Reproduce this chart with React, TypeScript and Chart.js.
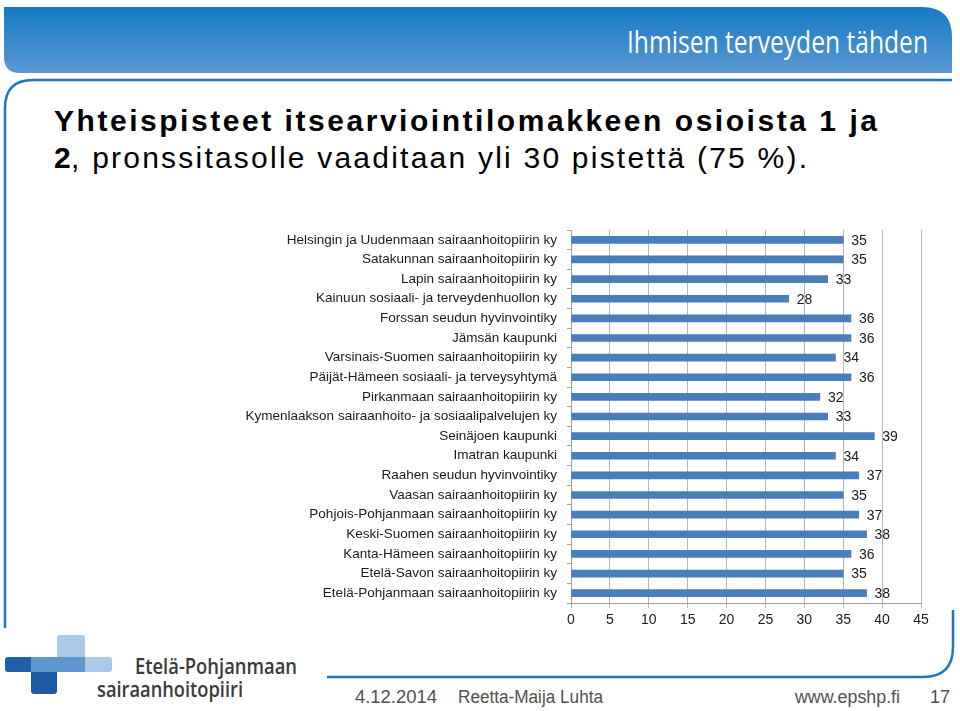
import React, { useEffect, useRef } from "react";
import { Chart, registerables } from "chart.js";

Chart.register(...registerables);

const categories = [
  "Helsingin ja Uudenmaan sairaanhoitopiirin ky",
  "Satakunnan sairaanhoitopiirin ky",
  "Lapin sairaanhoitopiirin ky",
  "Kainuun sosiaali- ja terveydenhuollon ky",
  "Forssan seudun hyvinvointiky",
  "Jämsän kaupunki",
  "Varsinais-Suomen sairaanhoitopiirin ky",
  "Päijät-Hämeen sosiaali- ja terveysyhtymä",
  "Pirkanmaan sairaanhoitopiirin ky",
  "Kymenlaakson sairaanhoito- ja sosiaalipalvelujen ky",
  "Seinäjoen kaupunki",
  "Imatran kaupunki",
  "Raahen seudun hyvinvointiky",
  "Vaasan sairaanhoitopiirin ky",
  "Pohjois-Pohjanmaan sairaanhoitopiirin ky",
  "Keski-Suomen sairaanhoitopiirin ky",
  "Kanta-Hämeen sairaanhoitopiirin ky",
  "Etelä-Savon sairaanhoitopiirin ky",
  "Etelä-Pohjanmaan sairaanhoitopiirin ky",
];

const scores = [35, 35, 33, 28, 36, 36, 34, 36, 32, 33, 39, 34, 37, 35, 37, 38, 36, 35, 38];

const xMin = 0;
const xMax = 45;
const xStep = 5;

const titleLine1 = "Yhteispisteet itsearviointilomakkeen osioista 1 ja";
const titleLine2Bold = "2";
const titleLine2Rest = ", pronssitasolle vaaditaan yli 30 pistettä (75 %).";
const bannerText = "Ihmisen terveyden tähden";
const logoLine1 = "Etelä-Pohjanmaan";
const logoLine2 = "sairaanhoitopiiri";
const footerDate = "4.12.2014";
const footerAuthor = "Reetta-Maija Luhta";
const footerSite = "www.epshp.fi";
const footerPage = "17";

const FONT = "'Liberation Sans', Arial, Helvetica, sans-serif";

const valueLabels = {
  id: "valueLabels",
  afterDatasetsDraw(chart: any) {
    const ctx = chart.ctx;
    const meta = chart.getDatasetMeta(0);
    ctx.save();
    ctx.font = `14px ${FONT}`;
    ctx.fillStyle = "#1a1a1a";
    ctx.textAlign = "left";
    ctx.textBaseline = "middle";
    meta.data.forEach((bar: any, i: number) => {
      ctx.fillText(String(scores[i]), bar.x + 8, bar.y + 1);
    });
    ctx.restore();
  },
};

function Background() {
  return (
    <svg
      width={960}
      height={711}
      style={{ position: "absolute", left: 0, top: 0 }}
      xmlns="http://www.w3.org/2000/svg"
    >
      <defs>
        <linearGradient id="bannerGrad" x1="0" y1="0" x2="0" y2="1">
          <stop offset="0" stopColor="#1479c3" />
          <stop offset="1" stopColor="#5c98d4" />
        </linearGradient>
      </defs>
      <path
        d="M4,7 L922,7 Q952,7 952,37 L952,73 L20,73 Q4,73 4,57 Z"
        fill="url(#bannerGrad)"
      />
      <text
        x={627}
        y={53}
        fill="#ffffff"
        fontFamily="'Open Sans', 'Noto Sans', sans-serif"
        fontSize={31}
        textLength={301}
        lengthAdjust="spacingAndGlyphs"
      >
        {bannerText}
      </text>
      <path
        d="M5,628 L5,108 Q5,80 33,80 L952,80"
        fill="none"
        stroke="#1b78bd"
        strokeWidth={2.5}
      />
      <path
        d="M953,610 L953,647 Q953,677 923,677 L327,677"
        fill="none"
        stroke="#1b78bd"
        strokeWidth={2.5}
      />
      <text
        x={54}
        y={131}
        fill="#000"
        fontFamily={FONT}
        fontWeight="bold"
        fontSize={30}
        textLength={823}
        lengthAdjust="spacing"
      >
        {titleLine1}
      </text>
      <text x={54} y={168} fill="#000" fontFamily={FONT} fontWeight="bold" fontSize={30}>
        {titleLine2Bold}
      </text>
      <text
        x={71}
        y={168}
        fill="#000"
        fontFamily={FONT}
        fontSize={30}
        textLength={736}
        lengthAdjust="spacing"
      >
        {titleLine2Rest}
      </text>
      <rect x={57} y={635} width={28} height={26} rx={3} fill="#a9c9e9" />
      <rect x={80} y={657} width={32} height={15} rx={3} fill="#a9c9e9" />
      <rect x={5} y={657} width={30} height={15} rx={3} fill="#1f60a8" />
      <rect x={31} y={668} width={26} height={26} rx={3} fill="#1b5aa4" />
      <rect x={31} y={657} width={54} height={15} fill="#6097cf" />
      <text
        x={135}
        y={674}
        fill="#3a3a3a"
        fontFamily="'Open Sans', 'Noto Sans', sans-serif"
        fontWeight={600}
        fontSize={22}
        textLength={162}
        lengthAdjust="spacingAndGlyphs"
      >
        {logoLine1}
      </text>
      <text
        x={97}
        y={697}
        fill="#3a3a3a"
        fontFamily="'Open Sans', 'Noto Sans', sans-serif"
        fontWeight={600}
        fontSize={22}
        textLength={146}
        lengthAdjust="spacingAndGlyphs"
      >
        {logoLine2}
      </text>
      <text x={355} y={703} fill="#505050" fontFamily={FONT} fontSize={18} textLength={82} lengthAdjust="spacingAndGlyphs">
        {footerDate}
      </text>
      <text x={458} y={703} fill="#505050" fontFamily={FONT} fontSize={18} textLength={145} lengthAdjust="spacingAndGlyphs">
        {footerAuthor}
      </text>
      <text x={795} y={703} fill="#505050" fontFamily={FONT} fontSize={18} textLength={105} lengthAdjust="spacingAndGlyphs">
        {footerSite}
      </text>
      <text x={930} y={703} fill="#505050" fontFamily={FONT} fontSize={18}>
        {footerPage}
      </text>
    </svg>
  );
}

export default function App() {
  const canvasRef = useRef<HTMLCanvasElement | null>(null);

  useEffect(() => {
    const canvas = canvasRef.current;
    if (!canvas) return;
    const chart = new Chart(canvas, {
      type: "bar",
      data: {
        labels: categories,
        datasets: [
          {
            data: scores,
            backgroundColor: "#4a7ebb",
            borderWidth: 0,
            barThickness: 7,
          },
        ],
      },
      plugins: [valueLabels],
      options: {
        indexAxis: "y",
        responsive: false,
        maintainAspectRatio: false,
        devicePixelRatio: 1,
        animation: false,
        layout: { padding: { left: 0, right: 39, top: 230, bottom: 78 } },
        plugins: {
          legend: { display: false },
          tooltip: { enabled: false },
          title: { display: false },
        },
        scales: {
          x: {
            type: "linear",
            min: xMin,
            max: xMax,
            ticks: {
              stepSize: xStep,
              color: "#1a1a1a",
              font: { family: FONT, size: 14 },
              padding: 4,
              maxRotation: 0,
            },
            grid: {
              color: "#b5b5b5",
              lineWidth: 1,
              tickLength: 5,
              drawTicks: true,
            },
            border: { color: "#a0a0a0", width: 1 },
            afterFit(scale: any) {
              scale.height = 30;
            },
          },
          y: {
            type: "category",
            offset: true,
            ticks: {
              color: "#1a1a1a",
              font: { family: FONT, size: 13.5 },
              padding: 10,
              autoSkip: false,
            },
            grid: {
              drawOnChartArea: false,
              tickLength: 4,
              color: "#a0a0a0",
              offset: true,
            },
            border: { color: "#a0a0a0", width: 1 },
            afterFit(scale: any) {
              scale.width = 571;
            },
          },
        },
      },
    });
    return () => chart.destroy();
  }, []);

  return (
    <div
      style={{
        position: "absolute",
        left: 0,
        top: 0,
        width: 960,
        height: 711,
        background: "#ffffff",
        overflow: "hidden",
      }}
    >
      <Background />
      <canvas
        ref={canvasRef}
        width={960}
        height={711}
        style={{ position: "absolute", left: 0, top: 0, width: 960, height: 711 }}
      />
    </div>
  );
}
